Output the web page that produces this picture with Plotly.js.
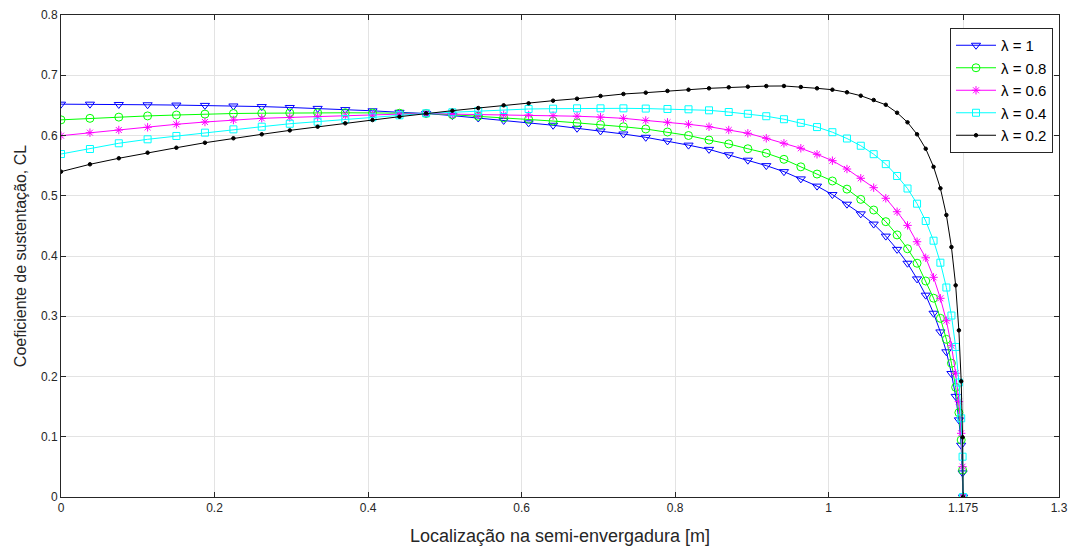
<!DOCTYPE html>
<html>
<head>
<meta charset="utf-8">
<script src="https://cdn.plot.ly/plotly-3.0.1.min.js"></script>
<style>
  html, body { margin: 0; padding: 0; background: #fff; }
  #chart { width: 1081px; height: 547px; }
</style>
</head>
<body>
<div id="chart"></div>
<script>
// Spanwise stations [m]
const xStations = [0, 0.0377, 0.0753, 0.1128, 0.1503, 0.1875, 0.2246, 0.2615, 0.2980, 0.3343,
  0.3703, 0.4058, 0.4409, 0.4756, 0.5098, 0.5435, 0.5766, 0.6091, 0.6410, 0.6722,
  0.7028, 0.7326, 0.7617, 0.7900, 0.8174, 0.8441, 0.8698, 0.8947, 0.9187, 0.9417,
  0.9637, 0.9848, 1.0048, 1.0238, 1.0418, 1.0586, 1.0744, 1.0891, 1.1027, 1.1151,
  1.1264, 1.1366, 1.1455, 1.1533, 1.1599, 1.1654, 1.1696, 1.1726, 1.1744, 1.175];

const clLambda1 = [0.652, 0.652, 0.6515, 0.651, 0.6505, 0.650, 0.649, 0.648, 0.6465, 0.645,
  0.643, 0.641, 0.6385, 0.6365, 0.633, 0.629, 0.625, 0.621, 0.617, 0.612,
  0.6075, 0.6025, 0.597, 0.591, 0.584, 0.577, 0.568, 0.559, 0.550, 0.540,
  0.528, 0.516, 0.502, 0.486, 0.470, 0.453, 0.433, 0.411, 0.388, 0.362,
  0.335, 0.305, 0.274, 0.241, 0.205, 0.167, 0.128, 0.086, 0.040, 0];

const clLambda08 = [0.626, 0.6285, 0.6305, 0.6325, 0.634, 0.6355, 0.6365, 0.637, 0.6375, 0.6377,
  0.6377, 0.6375, 0.637, 0.6365, 0.6345, 0.632, 0.6295, 0.627, 0.624, 0.621,
  0.618, 0.6145, 0.6108, 0.6058, 0.600, 0.5925, 0.586, 0.578, 0.5707, 0.5605,
  0.548, 0.536, 0.5245, 0.511, 0.494, 0.4763, 0.457, 0.435, 0.412, 0.388,
  0.3585, 0.330, 0.2966, 0.2617, 0.222, 0.182, 0.140, 0.0946, 0.0448, 0];

const clLambda06 = [0.5997, 0.6047, 0.6091, 0.6136, 0.6186, 0.6224, 0.6257, 0.6285, 0.630, 0.6312,
  0.6329, 0.634, 0.6357, 0.6368, 0.6355, 0.635, 0.6345, 0.634, 0.633, 0.632,
  0.6305, 0.6285, 0.625, 0.6219, 0.6186, 0.6146, 0.6091, 0.6037, 0.5954, 0.5871,
  0.5788, 0.5688, 0.5582, 0.5444, 0.529, 0.5134, 0.4958, 0.4735, 0.4508, 0.4237,
  0.397, 0.3646, 0.3298, 0.2926, 0.2511, 0.2053, 0.1582, 0.1057, 0.0503, 0];

const clLambda04 = [0.5693, 0.5776, 0.5871, 0.5937, 0.5992, 0.6047, 0.6102, 0.6146, 0.6195, 0.6229,
  0.6274, 0.6302, 0.6335, 0.6368, 0.6385, 0.6407, 0.6423, 0.644, 0.6445, 0.6451,
  0.6451, 0.6451, 0.6447, 0.644, 0.6435, 0.6418, 0.639, 0.636, 0.632, 0.627,
  0.621, 0.614, 0.6055, 0.595, 0.583, 0.569, 0.5525, 0.5328, 0.512, 0.4868,
  0.4581, 0.4254, 0.3889, 0.3477, 0.3012, 0.249, 0.190, 0.1306, 0.0669, 0];

const clLambda02 = [0.540, 0.5522, 0.5622, 0.5715, 0.5797, 0.588, 0.5954, 0.602, 0.6085, 0.6146,
  0.6202, 0.6257, 0.6312, 0.6368, 0.6412, 0.6456, 0.6501, 0.6534, 0.6578, 0.6611,
  0.6656, 0.6689, 0.6711, 0.674, 0.676, 0.6783, 0.680, 0.681, 0.682, 0.6822,
  0.6805, 0.6783, 0.676, 0.6717, 0.666, 0.6589, 0.651, 0.6378, 0.6219, 0.602,
  0.578, 0.548, 0.5124, 0.468, 0.4148, 0.3513, 0.2766, 0.192, 0.099, 0];

const seriesNames = ['λ = 1', 'λ = 0.8', 'λ = 0.6', 'λ = 0.4', 'λ = 0.2'];
const xTickVals = [0, 0.2, 0.4, 0.6, 0.8, 1, 1.175, 1.3];
const xTickText = ['0', '0.2', '0.4', '0.6', '0.8', '1', '1.175', '1.3'];
const yTickVals = [0, 0.1, 0.2, 0.3, 0.4, 0.5, 0.6, 0.7, 0.8];
const yTickText = ['0', '0.1', '0.2', '0.3', '0.4', '0.5', '0.6', '0.7', '0.8'];

const ySeries = [clLambda1, clLambda08, clLambda06, clLambda04, clLambda02];
const colors = ['#0000ff', '#00ff00', '#ff00ff', '#00ffff', '#000000'];
const symbols = ['triangle-down-open', 'circle-open', 'asterisk-open', 'square-open', 'circle'];
const sizes = [8, 8, 7, 7, 3.5];

const traces = ySeries.map((ys, i) => ({
  type: 'scatter',
  mode: 'lines+markers',
  name: seriesNames[i],
  x: xStations,
  y: ys,
  line: { color: colors[i], width: 1 },
  marker: { symbol: symbols[i], size: sizes[i], color: colors[i], line: { color: colors[i], width: 1 } }
}));

const axisFont = { family: 'Liberation Sans, Arial, sans-serif', size: 12, color: '#262626' };

const layout = {
  width: 1081, height: 547,
  margin: { l: 61, r: 22, t: 15, b: 50 },
  paper_bgcolor: '#ffffff',
  plot_bgcolor: '#ffffff',
  showlegend: true,
  legend: {
    x: 0.994, xanchor: 'right', y: 0.973, yanchor: 'top',
    bgcolor: '#ffffff', bordercolor: '#262626', borderwidth: 1,
    font: { family: 'Liberation Sans, Arial, sans-serif', size: 15, color: '#000000' },
    itemwidth: 40, tracegroupgap: 0
  },
  xaxis: {
    range: [0, 1.3], tickvals: xTickVals, ticktext: xTickText,
    ticks: 'inside', ticklen: 5, tickcolor: '#262626',
    showline: true, linecolor: '#262626', linewidth: 1, mirror: 'ticks',
    showgrid: true, gridcolor: '#e3e3e3', zeroline: false,
    tickfont: axisFont,
    title: { text: 'Localização na semi-envergadura [m]', font: { family: 'Liberation Sans, Arial, sans-serif', size: 18, color: '#262626' }, standoff: 14 }
  },
  yaxis: {
    range: [0, 0.8], tickvals: yTickVals, ticktext: yTickText,
    ticks: 'inside', ticklen: 5, tickcolor: '#262626',
    showline: true, linecolor: '#262626', linewidth: 1, mirror: 'ticks',
    showgrid: true, gridcolor: '#e3e3e3', zeroline: false,
    tickfont: axisFont,
    title: { text: 'Coeficiente de sustentação, CL', font: { family: 'Liberation Sans, Arial, sans-serif', size: 16, color: '#262626' }, standoff: 10 }
  }
};

Plotly.newPlot('chart', traces, layout, { displayModeBar: false, staticPlot: true });
</script>
</body>
</html>
